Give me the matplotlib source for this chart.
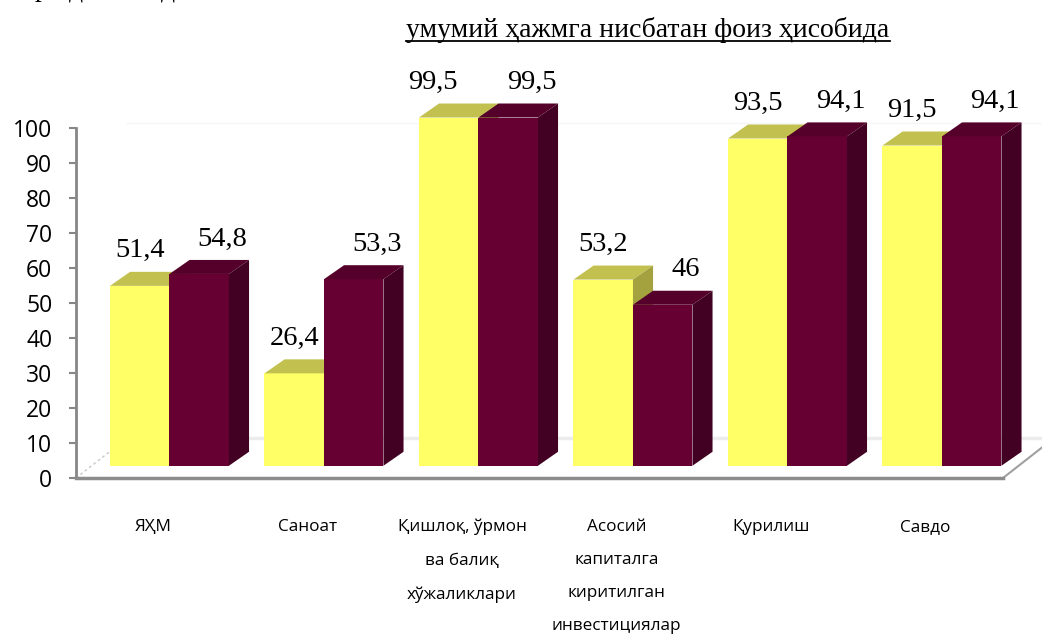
import numpy as np
import matplotlib.pyplot as plt
from matplotlib.patches import Polygon
from matplotlib.lines import Line2D

# маълумотлар
categories = ["ЯҲМ", "Саноат", "Қишлоқ, ўрмон\nва балиқ\nхўжаликлари",
              "Асосий\nкапиталга\nкиритилган\nинвестициялар", "Қурилиш", "Савдо"]
yellow_vals = [51.4, 26.4, 99.5, 53.2, 93.5, 91.5]
maroon_vals = [54.8, 53.3, 99.5, 46, 94.1, 94.1]
yellow_text = ["51,4", "26,4", "99,5", "53,2", "93,5", "91,5"]
maroon_text = ["54,8", "53,3", "99,5", "46", "94,1", "94,1"]
yticks = list(range(0, 101, 10))

serif = "Liberation Serif"
sans = "Open Sans"

fig = plt.figure(figsize=(10.42, 6.41), dpi=100)
ax = fig.add_axes([76 / 1042, 163 / 641, 927 / 1042, 350 / 641])

w = 0.385          # bar width
dx, dy = 0.13, 4.0  # 3d depth offset
base = 3.5         # bars stand a bit behind the front edge
x = np.arange(len(categories))

ax.set_xlim(-0.605, 5.395)
ax.set_ylim(0, 100)


def bar3d(x0, v, front, top, side, z):
    x1 = x0 + w
    t = base + v
    ax.bar(x0, v, width=w, bottom=base, align="edge", color=front,
           zorder=z, clip_on=False)
    ax.add_patch(Polygon([(x0, t), (x1, t), (x1 + dx, t + dy), (x0 + dx, t + dy)],
                         closed=True, facecolor=top, edgecolor="none",
                         zorder=z, clip_on=False))
    ax.add_patch(Polygon([(x1, base), (x1 + dx, base + dy), (x1 + dx, t + dy), (x1, t)],
                         closed=True, facecolor=side, edgecolor="none",
                         zorder=z, clip_on=False))


# пол
xl0, xl1 = ax.get_xlim()
fdx, fdy = 0.33, 11.4
ax.plot([xl0 + fdx, xl1 + fdx], [fdy, fdy], color="#ececec", lw=2.5, zorder=1, clip_on=False)
ax.plot([xl0 + fdx, xl1 + fdx], [101.4, 101.4], color="#f5f5f5", lw=1, zorder=1, clip_on=False)
ax.plot([xl0, xl0 + fdx], [0, fdy], ls=(0, (2, 2)), color="#c8c8c8", lw=1, zorder=1, clip_on=False)
ax.plot([xl1, xl1 + fdx], [0, fdy], color="#a0a0a0", lw=1.5, zorder=1, clip_on=False)

yellow_nudge = [0, 0, -0.1, 0, 0, 0]
for i in range(len(categories)):
    bar3d(x[i] - w, yellow_vals[i], "#ffff66", "#c2c150", "#a3a23f", 3 + 2 * i)
    bar3d(x[i], maroon_vals[i], "#660033", "#55002a", "#420022", 4 + 2 * i)
    ax.text(x[i] - w / 2 + yellow_nudge[i], base + yellow_vals[i] + dy + 6, yellow_text[i],
            ha="center", va="center", fontsize=20.5, family=serif, zorder=20, clip_on=False)
    ax.text(x[i] + w / 2 + 0.15, base + maroon_vals[i] + dy + 6, maroon_text[i],
            ha="center", va="center", fontsize=20.5, family=serif, zorder=20, clip_on=False)

# оқлар
for s in ["top", "right"]:
    ax.spines[s].set_visible(False)
ax.spines["left"].set_color("#868686")
ax.spines["left"].set_linewidth(2)
ax.spines["bottom"].set_color("#8c8c8c")
ax.spines["bottom"].set_linewidth(2.5)

ax.set_yticks(yticks)
ax.set_yticklabels([str(t) for t in yticks], family=sans, fontsize=16.5)
ax.tick_params(axis="y", length=5, width=1.5, color="#868686", pad=12)

ax.set_xticks(x - 0.107)
ax.set_xticklabels(categories, family=sans, fontsize=12.3, linespacing=2.42)
ax.tick_params(axis="x", length=0, pad=29.5)

# сарлавҳа
title = fig.text(648 / 1042, 1 - 37 / 641, "умумий ҳажмга нисбатан фоиз ҳисобида",
                 ha="center", va="baseline", fontsize=20, family=serif)
for px, ch in [(42, "р"), (76, "д"), (168, "д")]:
    fig.text(px / 1042, 1 + 4 / 641, ch, ha="center", va="baseline", fontsize=20, family=serif)

fig.canvas.draw()
bb = title.get_window_extent().transformed(fig.transFigure.inverted())
uy = 1 - 41 / 641
fig.add_artist(Line2D([bb.x0, bb.x1], [uy, uy], color="black", lw=1.3))

fig.savefig("out.png", dpi=100)
